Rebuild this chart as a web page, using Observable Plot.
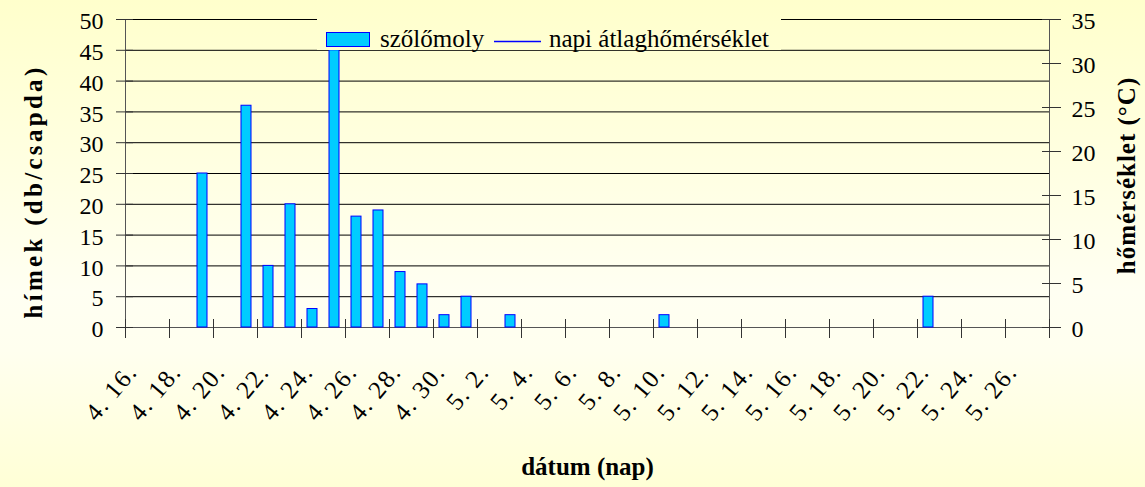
<!DOCTYPE html>
<html>
<head>
<meta charset="utf-8">
<script src="https://cdn.jsdelivr.net/npm/d3@7"></script>
<script src="https://cdn.jsdelivr.net/npm/@observablehq/plot@0.6"></script>
<style>
  html, body { margin: 0; padding: 0; }
  body {
    width: 1145px; height: 487px; overflow: hidden; position: relative;
    background: linear-gradient(to bottom, #FFFFCC 0%, #FFFFF2 60%, #FFFFEF 72%, #FFFFD6 100%) fixed;
    font-family: "Liberation Serif", "Times New Roman", serif;
  }
  #chart { position: absolute; left: 0; top: 0; }
  #legend {
    position: absolute; left: 317px; top: 14px; width: 464px; height: 36px;
    background: linear-gradient(to bottom, #FFFFCC 0%, #FFFFF2 60%, #FFFFEF 72%, #FFFFD6 100%) fixed;
  }
  #legend svg { overflow: visible; }
</style>
</head>
<body>
<div id="chart"></div>
<div id="legend"></div>
<script>
// ---- data ----
const dates = [
  "4. 16.", "4. 17.", "4. 18.", "4. 19.", "4. 20.", "4. 21.", "4. 22.", "4. 23.",
  "4. 24.", "4. 25.", "4. 26.", "4. 27.", "4. 28.", "4. 29.", "4. 30.",
  "5. 1.", "5. 2.", "5. 3.", "5. 4.", "5. 5.", "5. 6.", "5. 7.", "5. 8.", "5. 9.",
  "5. 10.", "5. 11.", "5. 12.", "5. 13.", "5. 14.", "5. 15.", "5. 16.", "5. 17.",
  "5. 18.", "5. 19.", "5. 20.", "5. 21.", "5. 22.", "5. 23.", "5. 24.", "5. 25.",
  "5. 26.", "5. 27."
];
// szőlőmoly (hímek db/csapda)
const counts = [
  0, 0, 0, 25, 0, 36, 10, 20,
  3, 45, 18, 19, 9, 7, 2,
  5, 0, 2, 0, 0, 0, 0, 0, 0,
  2, 0, 0, 0, 0, 0, 0, 0,
  0, 0, 0, 0, 5, 0, 0, 0,
  0, 0
];
// napi átlaghőmérséklet: no values visible in the reference
const temperature = [];
const seriesNames = ["szőlőmoly", "napi átlaghőmérséklet"];
const leftTicks = [0, 5, 10, 15, 20, 25, 30, 35, 40, 45, 50];
const rightTicks = [0, 5, 10, 15, 20, 25, 30, 35];
const xTitle = "dátum (nap)";
const yTitleLeft = "hímek (db/csapda)";
const yTitleRight = "hőmérséklet (°C)";

// ---- derived ----
const leftMax = 50, rightMax = 35;
const toLeft = t => t * leftMax / rightMax;
const rows = dates.map((date, i) => ({i, date, count: counts[i]}));
const labelIdx = dates.map((d, i) => i).filter(i => i % 2 === 0);
const boundaryIdx = d3.range(0, dates.length + 1, 2);
const tempRows = temperature.map((t, i) => ({i, t}));

const font = "Liberation Serif, Times New Roman, serif";

const chart = Plot.plot({
  width: 1145,
  height: 487,
  marginLeft: 125,
  marginRight: 96,
  marginTop: 19,
  marginBottom: 160,
  style: {background: "transparent", fontFamily: font, fontSize: "24px", color: "#000", overflow: "visible"},
  x: {type: "linear", domain: [0, dates.length]},
  y: {domain: [0, leftMax]},
  marks: [
    Plot.gridY(leftTicks.filter(v => v > 0), {stroke: "#000", strokeOpacity: 1, strokeWidth: 1}),
    Plot.line(tempRows, {x: d => d.i + 0.5, y: d => toLeft(d.t), stroke: "#0000FF"}),
    Plot.ruleX([0, dates.length], {stroke: "#555"}),
    Plot.ruleY([0], {stroke: "#555"}),
    // left axis
    Plot.axisY(leftTicks, {anchor: "left", tickSize: 17, dx: 8, tickFormat: () => "", label: null, stroke: "#333"}),
    Plot.axisY(leftTicks, {anchor: "left", tickSize: 0, tickPadding: 22, dy: 2, label: null}),
    // right axis (temperature)
    Plot.axisY(rightTicks.map(toLeft), {anchor: "right", tickSize: 19, dx: -8, tickFormat: () => "", label: null, stroke: "#333"}),
    Plot.axisY(rightTicks.map(toLeft), {anchor: "right", tickSize: 0, tickPadding: 22, dy: 2,
      tickFormat: v => String(Math.round(v * rightMax / leftMax)), label: null}),
    // x axis ticks (every second day boundary)
    Plot.axisX(boundaryIdx, {tickSize: 19, dy: -8, tickFormat: () => "", label: null, stroke: "#333"}),
    // bars
    Plot.rectY(rows.filter(d => d.count > 0), {
      x1: "i", x2: d => d.i + 1, y: "count",
      insetLeft: 6, insetRight: 6,
      fill: "#00CCFF", stroke: "#0000FF", strokeWidth: 1
    }),
    // x tick labels, rotated
    Plot.text(labelIdx, {x: i => i + 0.5, text: i => dates[i], frameAnchor: "bottom", dy: 45, dx: 2,
      rotate: -50, textAnchor: "end", lineAnchor: "bottom", fontSize: 25}),
    // titles
    Plot.text([xTitle], {frameAnchor: "bottom", dy: 147, lineAnchor: "bottom", textAnchor: "middle",
      fontWeight: "bold", fontSize: 25}),
    Plot.text([yTitleLeft], {frameAnchor: "left", dx: -84, dy: 18, rotate: -90, lineAnchor: "bottom",
      textAnchor: "middle", fontWeight: "bold", fontSize: 25}),
    Plot.text([yTitleRight], {frameAnchor: "right", dx: 85, dy: 2, rotate: -90, lineAnchor: "bottom",
      textAnchor: "middle", fontWeight: "bold", fontSize: 25})
  ]
});
// rotated texts in the original are drawn with wider letter spacing
const svg = d3.select(chart);
const labelSet = new Set(labelIdx.map(i => dates[i]));
svg.selectAll("text").each(function() {
  const t = this.textContent;
  if (t === yTitleLeft) this.style.letterSpacing = "3.3px";
  else if (t === yTitleRight) this.style.letterSpacing = "1px";
  else if (labelSet.has(t)) this.style.letterSpacing = "1.5px";
});
document.getElementById("chart").appendChild(chart);

// ---- legend (overlaid on the plot area, as in the original) ----
const lg = d3.select("#legend").append("svg")
  .attr("width", 464).attr("height", 36)
  .style("font-family", font).style("font-size", "25px");
lg.append("rect").attr("x", 9.5).attr("y", 18.5).attr("width", 43).attr("height", 14)
  .attr("fill", "#00CCFF").attr("stroke", "#0000FF");
lg.append("text").attr("x", 63).attr("y", 32.5).text(seriesNames[0]);
lg.append("line").attr("x1", 177).attr("x2", 224).attr("y1", 27.5).attr("y2", 27.5)
  .attr("stroke", "#0000FF").attr("stroke-width", 1.5);
lg.append("text").attr("x", 232).attr("y", 32.5).text(seriesNames[1]);
</script>
</body>
</html>
